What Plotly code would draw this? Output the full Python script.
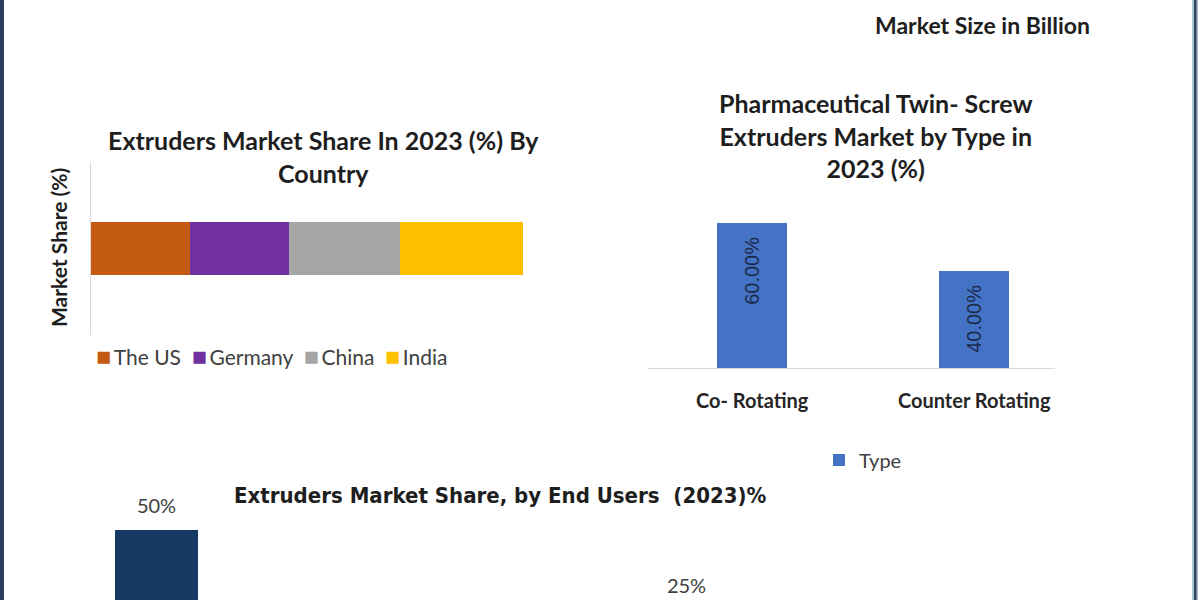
import plotly.graph_objects as go

# ---------------- data ----------------
# Chart 1: market share by country (stacked horizontal bar)
countries = ["The US", "Germany", "China", "India"]
country_share = [22.8, 23.1, 25.6, 28.5]
country_colors = ["#C55A11", "#7030A0", "#A5A5A5", "#FFC000"]
country_bar = ["2023"]

# Chart 2: market by type
types = ["Co- Rotating", "Counter Rotating"]
type_share = [60.0, 40.0]
type_labels = ["60.00%", "40.00%"]

# Chart 3: market share by end users (only the top of the chart is visible;
# the 2nd and 4th bars lie below the visible area, their labels are not readable)
end_users = ["Pharmaceutical Companies", "Research Institutes", "Contract Manufacturers", "Others"]
end_user_share = [50, 15, 25, 10]
end_user_labels = ["50%", "", "25%", ""]

# ---------------- styling ----------------
W, H = 1200, 600
FONT = "Lato, 'Open Sans', sans-serif"
NARROW = "'Liberation Sans Narrow', 'DejaVu Sans Condensed', Lato, sans-serif"
DARK = "#1e1e1e"
GREY_TXT = "#404040"


def px_x(v):
    return v / W


def px_y(v):
    return 1 - v / H


fig = go.Figure()

# Chart 1 traces
for name, val, col in zip(countries, country_share, country_colors):
    fig.add_trace(go.Bar(
        y=country_bar, x=[val], name=name, orientation="h",
        marker=dict(color=col, line=dict(width=0)),
        width=0.31, xaxis="x", yaxis="y", showlegend=False,
    ))

# Chart 2 trace
fig.add_trace(go.Bar(
    x=types, y=type_share, name="Type",
    marker=dict(color="#4472C4", line=dict(width=0)),
    width=0.315, text=[t + "\u00a0\u00a0" for t in type_labels], textposition="inside",
    insidetextanchor="end", textangle=-90,
    textfont=dict(family="'Liberation Sans', Arial, sans-serif", size=20, color="#1c2a4a"),
    xaxis="x2", yaxis="y2", showlegend=True, legend="legend",
))

# Chart 3 traces: bars plus their value labels
fig.add_trace(go.Bar(
    x=end_users, y=end_user_share, name="End Users",
    marker=dict(color="#143a63", line=dict(width=0)),
    width=0.313, xaxis="x3", yaxis="y3", showlegend=False,
))
fig.add_trace(go.Scatter(
    x=end_users, y=end_user_share, mode="markers+text", text=end_user_labels,
    textposition="top center", marker=dict(size=17, color="rgba(0,0,0,0)"),
    textfont=dict(family=FONT, size=20, color=GREY_TXT),
    xaxis="x3", yaxis="y3", showlegend=False, hoverinfo="skip",
))

legend_text = "\u00a0\u00a0".join(
    f"<span style='color:{c};font-size:25px'>\u25A0</span>\u2009{n}"
    for n, c in zip(countries, country_colors)
)

ann_common = dict(xref="paper", yref="paper", showarrow=False, xanchor="center", yanchor="middle")

fig.update_layout(
    width=W, height=H,
    margin=dict(l=0, r=0, t=0, b=0),
    paper_bgcolor="#ffffff", plot_bgcolor="rgba(0,0,0,0)",
    barmode="stack", bargap=0,
    font=dict(family=FONT, color=DARK),
    # chart 1 axes
    xaxis=dict(domain=[px_x(91), px_x(523)], range=[0, 100], visible=False, anchor="y"),
    yaxis=dict(domain=[px_y(335), px_y(162)], range=[-0.5, 0.5], type="category",
               showline=True, linecolor="#d9d9d9", linewidth=1, showticklabels=False,
               ticks="", showgrid=False, zeroline=False, anchor="x"),
    # chart 2 axes
    xaxis2=dict(domain=[px_x(648), px_x(1055)], type="category", range=[-0.469, 1.364],
                showline=True, linecolor="#d9d9d9", linewidth=1, showgrid=False,
                ticks="outside", ticklen=15, tickcolor="rgba(0,0,0,0)",
                tickfont=dict(family=FONT, size=20, color="#262626", weight="bold"),
                anchor="y2"),
    yaxis2=dict(domain=[px_y(368), px_y(368 - 65 * 2.417)], range=[0, 65], visible=False,
                anchor="x2"),
    # chart 3 axes (baseline lies below the visible area)
    xaxis3=dict(domain=[px_x(24), px_x(1084)], type="category", range=[-0.5, 3.5],
                visible=False, anchor="y3"),
    yaxis3=dict(domain=[0, 0.2], range=[28.125, 65.625], visible=False, anchor="x3"),
    legend=dict(orientation="h", x=px_x(819), y=px_y(460), xanchor="left", yanchor="middle",
                font=dict(family=FONT, size=20, color=GREY_TXT), bgcolor="rgba(0,0,0,0)"),
    annotations=[
        dict(text="Market Size in Billion", x=px_x(982), y=px_y(25),
             font=dict(family=FONT, size=23, color=DARK, weight="bold"), **ann_common),
        dict(text="Extruders Market Share In 2023 (%) By<br>Country", x=px_x(323), y=px_y(156),
             align="center", font=dict(family=FONT, size=25, color=DARK, weight="bold"),
             **ann_common),
        dict(text="Market Share (%)", x=px_x(58), y=px_y(248), textangle=-90,
             font=dict(family=FONT, size=21, color=DARK, weight="bold"), **ann_common),
        dict(text=legend_text, x=px_x(94), y=px_y(355), xref="paper", yref="paper",
             xanchor="left", yanchor="middle", showarrow=False,
             font=dict(family=FONT, size=21, color=GREY_TXT)),
        dict(text="Pharmaceutical Twin- Screw<br>Extruders Market by Type in<br>2023 (%)",
             x=px_x(876), y=px_y(135.5), align="center",
             font=dict(family=FONT, size=25, color=DARK, weight="bold"), **ann_common),
        dict(text="Extruders Market Share, by End Users  (2023)%", x=px_x(500), y=px_y(495),
             font=dict(family=NARROW, size=22, color=DARK, weight="bold"), **ann_common),
    ],
    shapes=[
        dict(type="rect", xref="paper", yref="paper", x0=0, x1=px_x(4), y0=0, y1=1,
             fillcolor="#2e3d5f", line=dict(width=0), layer="above"),
        dict(type="rect", xref="paper", yref="paper", x0=px_x(1192), x1=px_x(1198), y0=0, y1=1,
             fillcolor="#a9c6d6", line=dict(width=0), layer="above"),
        dict(type="rect", xref="paper", yref="paper", x0=px_x(1194), x1=px_x(1196.5), y0=0, y1=1,
             fillcolor="#344257", line=dict(width=0), layer="above"),
    ],
)

fig.write_html("out.html")
